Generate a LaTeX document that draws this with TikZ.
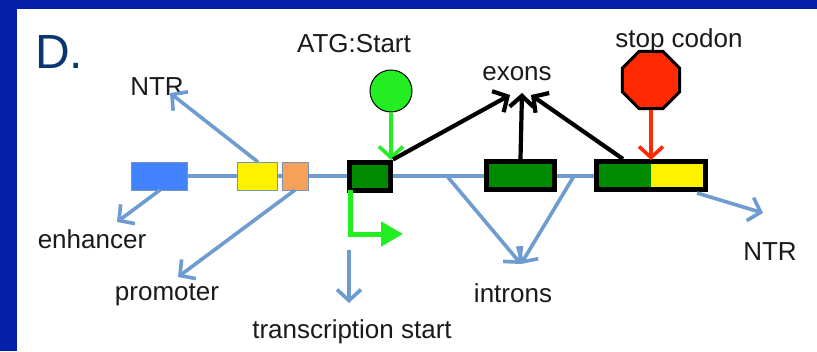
\documentclass[tikz,border=0pt]{standalone}
\usepackage{fontspec}
\setmainfont{Liberation Sans}
\usetikzlibrary{arrows.meta,shapes.geometric}
\definecolor{frameblue}{HTML}{0420AA}
\definecolor{lineblue}{HTML}{6E9BD0}
\definecolor{exgreen}{HTML}{008A00}
\definecolor{brightgreen}{HTML}{22EE22}
\definecolor{enhblue}{HTML}{4282FF}
\definecolor{promorange}{HTML}{F7A158}
\definecolor{stopred}{HTML}{FF2A00}
\definecolor{txtgray}{HTML}{1A1A1A}
\definecolor{dnavy}{HTML}{0B3570}
\begin{document}
\begin{tikzpicture}[x=1pt,y=-1pt,
  lbl/.style={anchor=base,inner sep=0pt,text=txtgray,font=\fontsize{26}{30}\selectfont},
  bluearrow/.style={draw=lineblue,line width=3.6pt,-{Straight Barb[length=11pt,width=24pt,line width=3.6pt]}},
  blackarrow/.style={draw=black,line width=4.2pt,-{Straight Barb[length=11pt,width=24pt,line width=4.2pt]}},
  regbox/.style={draw=lineblue!70!gray,line width=1pt,minimum height=28pt,inner sep=0pt},
  exbox/.style={draw=black,line width=5pt,fill=exgreen,minimum height=28pt,inner sep=0pt}
]
\useasboundingbox (0,0) rectangle (817,351);
\fill[white] (0,0) rectangle (817,351);
\fill[frameblue] (0,0) rectangle (817,9);
\fill[frameblue] (0,0) rectangle (17,351);

% title
\node[anchor=base,inner sep=0pt,text=dnavy,font=\fontsize{48}{52}\selectfont] (title) at (59,68) {D.};

% labels
\node[lbl] (ntrl) at (157,95) {NTR};
\node[lbl] (atg) at (354,52) {ATG:Start};
\node[lbl] (exons) at (517,80) {exons};
\node[lbl] (stop) at (679,47) {stop codon};
\node[lbl] (enhl) at (92,248) {enhancer};
\node[lbl] (proml) at (167,300) {promoter};
\node[lbl] (tsl) at (352,338) {transcription start};
\node[lbl] (intl) at (513,302) {introns};
\node[lbl] (ntrr) at (770,260) {NTR};

% baseline
\coordinate (b0) at (187,176);
\coordinate (b1) at (594,176);
\draw[lineblue,line width=3.6pt] (b0) -- (b1);

% boxes
\node[regbox,fill=enhblue,minimum width=56pt] (enh) at (159,176) {};
\node[regbox,fill=yellow,minimum width=40pt] (yel) at (257,176) {};
\node[regbox,fill=promorange,minimum width=26pt] (ora) at (295,176) {};
\node[exbox,minimum width=41pt] (ex1) at (370,176) {};
\node[exbox,minimum width=68pt] (ex2) at (520.5,175.5) {};
\node[exbox,minimum width=109pt] (ex3) at (651,175.5) {};
\fill[yellow] (651,164) rectangle (703,187);

% start circle and stop octagon
\node[circle,draw=black,line width=1pt,fill=brightgreen,minimum size=42pt,inner sep=0pt] (startc) at (391,91) {};
\node[regular polygon,regular polygon sides=8,draw=black,line width=3pt,fill=stopred,minimum size=62pt,inner sep=0pt] (stopo) at (651,80) {};

\draw[brightgreen,line width=3.6pt,-{Straight Barb[length=11pt,width=24pt,line width=3.6pt]}] (startc.south) -- (391,160);
\draw[stopred,line width=3.6pt,-{Straight Barb[length=11pt,width=24pt,line width=3.6pt]}] (stopo.south) -- (651,160);

% transcription start bent arrow
\draw[brightgreen,line width=5pt,-{Triangle[length=22pt,width=24pt]}] (350,190) -- (350,234) -- (403,234);

% exon arrows
\coordinate (exa) at (510,95);
\coordinate (exb) at (522,93);
\coordinate (exc) at (531,95);
\draw[blackarrow] (ex1.north east) -- (exa);
\draw[blackarrow] (ex2.north) -- (exb);
\draw[blackarrow] (623,159) -- (exc);

% blue annotation arrows
\coordinate (ntrtip) at (170,93);
\coordinate (enhtip) at (117,222);
\coordinate (promtip) at (178,277);
\coordinate (tsa) at (349,250);
\coordinate (tstip) at (349,303);
\coordinate (inta) at (447,176);
\coordinate (intb) at (574,176);
\coordinate (inttip) at (521,264);
\coordinate (ntrrtip) at (763,213);
\draw[bluearrow] (258,162) -- (ntrtip);
\draw[bluearrow] (160,190) -- (enhtip);
\draw[bluearrow] (295,190) -- (promtip);
\draw[bluearrow] (tsa) -- (tstip);
\draw[bluearrow] (inta) -- (inttip);
\draw[bluearrow] (intb) -- (inttip);
\draw[bluearrow] (697,193) -- (ntrrtip);
\end{tikzpicture}
\end{document}
